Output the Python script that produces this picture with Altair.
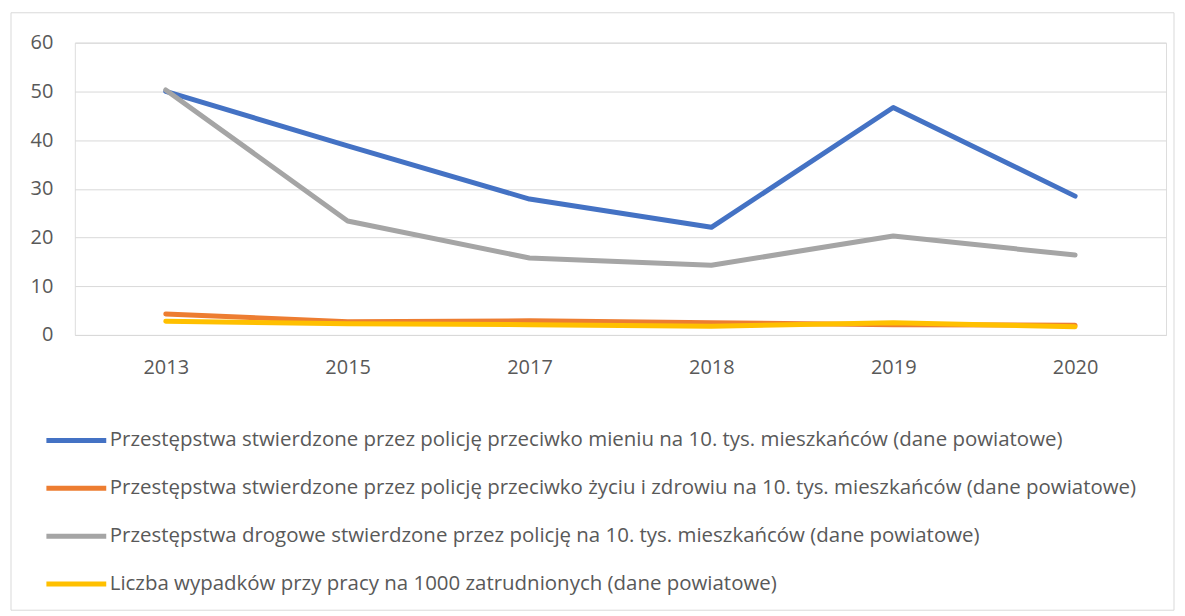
import altair as alt
import pandas as pd

years = ["2013", "2015", "2017", "2018", "2019", "2020"]
series_names = [
    "Przestępstwa stwierdzone przez policję przeciwko mieniu na 10. tys. mieszkańców (dane powiatowe)",
    "Przestępstwa stwierdzone przez policję przeciwko życiu i zdrowiu na 10. tys. mieszkańców (dane powiatowe)",
    "Przestępstwa drogowe stwierdzone przez policję na 10. tys. mieszkańców (dane powiatowe)",
    "Liczba wypadków przy pracy na 1000 zatrudnionych (dane powiatowe)",
]
mienie = [50.0, 38.8, 27.9, 22.1, 46.7, 28.5]
zycie = [4.3, 2.7, 2.9, 2.5, 2.1, 2.0]
drogowe = [50.3, 23.4, 15.8, 14.3, 20.3, 16.4]
wypadki = [2.8, 2.3, 2.1, 1.8, 2.5, 1.7]
colors = ["#4472C4", "#ED7D31", "#A5A5A5", "#FFC000"]

rows = []
for i, (name, vals) in enumerate(zip(series_names, [mienie, zycie, drogowe, wypadki])):
    for y, v in zip(years, vals):
        rows.append({"year": y, "value": v, "series": name, "idx": i})
df = pd.DataFrame(rows)

FONT = "Open Sans"
TXT = "#595959"

lines = alt.Chart(df).mark_line(strokeWidth=5, strokeCap="round", strokeJoin="round").encode(
    x=alt.X("year:N", sort=years, title=None,
            scale=alt.Scale(paddingInner=0, paddingOuter=0.5),
            axis=alt.Axis(labelAngle=0, ticks=False, domain=False, labelPadding=23,
                          labelFontSize=20, labelColor=TXT, labelFont=FONT)),
    y=alt.Y("value:Q", title=None,
            scale=alt.Scale(domain=[0, 60], nice=False),
            axis=alt.Axis(values=[0, 10, 20, 30, 40, 50, 60], ticks=False, domain=False,
                          labelPadding=22, labelFontSize=20, labelColor=TXT, labelFont=FONT,
                          gridColor="#d9d9d9", gridWidth=1)),
    color=alt.Color("series:N", sort=series_names,
                    scale=alt.Scale(domain=series_names, range=colors),
                    legend=alt.Legend(title=None, orient="none", legendX=-31, legendY=375,
                                      direction="vertical", symbolType="stroke",
                                      symbolSize=3600, symbolStrokeWidth=5,
                                      labelFontSize=20.5, labelColor=TXT, labelFont=FONT,
                                      labelLimit=1200, labelOffset=1, rowPadding=0,
                                      clipHeight=47.5)),
    order=alt.Order("idx:Q"),
    detail="idx:N",
)

border = alt.Chart(pd.DataFrame({"a": [0]})).mark_rect(
    fill=None, stroke="#d9d9d9", strokeWidth=1
).encode(
    x=alt.value(-64), x2=alt.value(1102), y=alt.value(-30), y2=alt.value(569)
)

chart = alt.layer(border, lines).properties(
    width=1094, height=293, padding={"left": 2, "top": 3, "right": 2, "bottom": 2}
).configure_view(stroke=None).configure(font=FONT)

chart.save("out.html", embed_options={"renderer": "svg", "actions": False})
